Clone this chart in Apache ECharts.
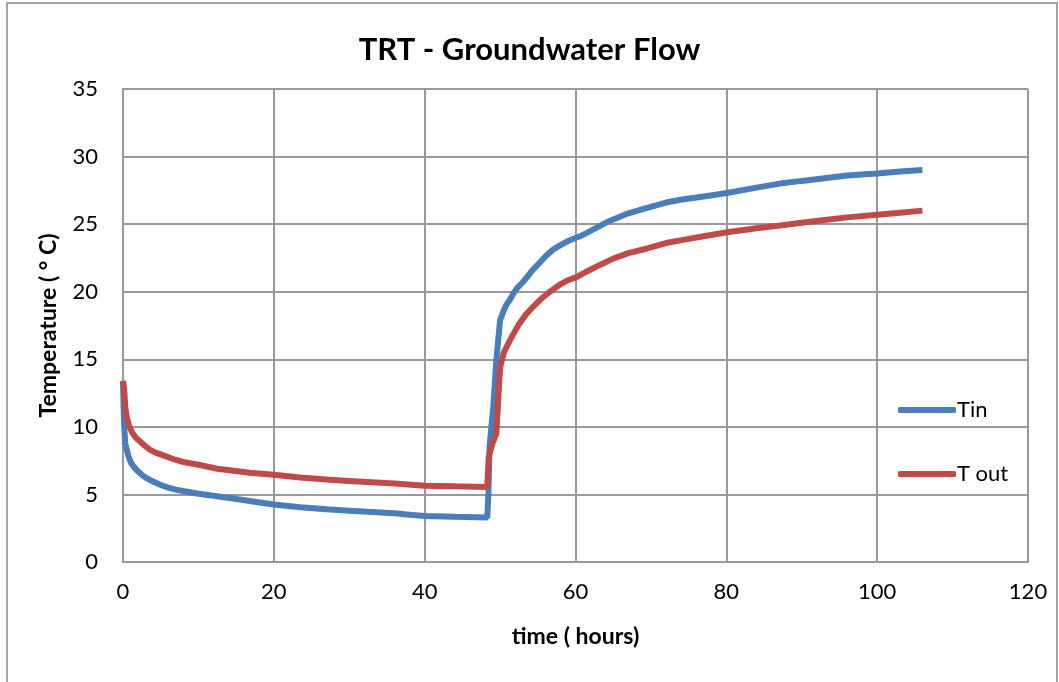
<!DOCTYPE html>
<html>
<head>
<meta charset="utf-8">
<script src="https://cdn.jsdelivr.net/npm/echarts@6/dist/echarts.min.js"></script>
<style>
html,body{margin:0;padding:0;background:#fff;}
#c{width:1059px;height:682px;}
</style>
</head>
<body>
<div id="c"></div>
<script>
const title = 'TRT - Groundwater Flow';
const xName = 'time ( hours)';
const yName = 'Temperature ( \u00b0 C)';
const seriesNames = ['Tin', 'T out'];
const tinData = [[0,13.3],[0.1,11.0],[0.2,9.6],[0.3,8.8],[0.5,8.3],[0.8,7.7],[1.1,7.3],[1.5,7.0],[2,6.7],[2.5,6.45],[3,6.25],[4,5.95],[5,5.7],[6,5.5],[7,5.35],[8,5.25],[10,5.05],[12,4.9],[14.6,4.7],[17,4.5],[20,4.25],[23.5,4.05],[27,3.9],[30,3.8],[33,3.7],[36,3.6],[38,3.5],[40,3.4],[44,3.35],[48.3,3.3],[48.45,5.0],[48.6,8.5],[49.1,11.5],[49.5,14.9],[50,17.9],[50.4,18.5],[50.8,19.0],[51.3,19.4],[51.8,19.9],[52.3,20.3],[53,20.7],[53.6,21.1],[54.3,21.6],[55,22.0],[56,22.6],[57,23.1],[58,23.45],[59,23.75],[60.6,24.1],[62,24.5],[63,24.8],[64,25.1],[65,25.35],[67,25.8],[69.5,26.2],[72,26.6],[73.9,26.8],[77,27.05],[80.1,27.3],[84,27.7],[87.1,28.0],[90,28.2],[93,28.4],[96,28.6],[100,28.75],[103,28.9],[106,29.0]];
const toutData = [[0,13.4],[0.15,12.8],[0.3,11.5],[0.5,10.7],[0.8,10.1],[1.2,9.6],[1.7,9.2],[2.3,8.9],[3,8.55],[3.6,8.3],[4.5,8.05],[5.8,7.8],[7,7.55],[8,7.4],[10,7.2],[12.5,6.9],[16.8,6.6],[20,6.45],[23.5,6.25],[27,6.1],[30,6.0],[33,5.9],[36,5.8],[40,5.65],[44,5.6],[48.3,5.55],[48.5,7.8],[49,8.8],[49.5,9.5],[50,14.4],[50.5,15.5],[51.3,16.4],[52,17.1],[52.5,17.6],[53.4,18.3],[54.4,18.9],[55.5,19.5],[56.6,20.0],[58,20.55],[59,20.85],[60.2,21.1],[61.5,21.5],[63.3,22.0],[65,22.45],[67,22.85],[69.5,23.2],[72,23.6],[73.9,23.8],[77,24.1],[80.1,24.4],[84,24.7],[87.1,24.9],[90,25.1],[93,25.3],[96,25.5],[100,25.7],[103,25.85],[106,26.0]];
const colors = ['#4a7ebb', '#be4b48'];

const font = 'Lato, "Noto Sans", sans-serif';
const gridColor = '#999999';
const chart = echarts.init(document.getElementById('c'), null, {renderer: 'canvas'});
chart.setOption({
  animation: false,
  backgroundColor: '#ffffff',
  graphic: [{
    type: 'rect', shape: {x: 7, y: 3, width: 1050, height: 720},
    style: {fill: 'none', stroke: '#a6a6a6', lineWidth: 2}, silent: true, z: -1
  }],
  title: {
    text: title, left: 'center', top: 29,
    textStyle: {fontFamily: font, fontSize: 31, fontWeight: 'bold', color: '#000'}
  },
  legend: {
    orient: 'vertical', left: 893, top: 394, itemGap: 42,
    itemWidth: 58, itemHeight: 6, icon: 'roundRect',
    data: seriesNames,
    textStyle: {fontFamily: font, fontSize: 22, color: '#000', padding: [0,0,0,-4]}
  },
  grid: {left: 123, right: 31, top: 89, bottom: 120},
  xAxis: {
    type: 'value', min: 0, max: 120, interval: 20,
    name: xName, nameLocation: 'middle', nameGap: 63,
    nameTextStyle: {fontFamily: font, fontSize: 23, fontWeight: 'bold', color: '#000'},
    axisLine: {show: true, lineStyle: {color: gridColor, width: 2}},
    axisTick: {show: false},
    axisLabel: {fontFamily: font, fontSize: 22, color: '#000', margin: 19},
    splitLine: {show: true, lineStyle: {color: gridColor, width: 2}}
  },
  yAxis: {
    type: 'value', min: 0, max: 35, interval: 5,
    name: yName, nameLocation: 'middle', nameGap: 63,
    nameTextStyle: {fontFamily: font, fontSize: 23, fontWeight: 'bold', color: '#000'},
    axisLine: {show: true, lineStyle: {color: gridColor, width: 2}},
    axisTick: {show: false},
    axisLabel: {fontFamily: font, fontSize: 22, color: '#000', margin: 25},
    splitLine: {show: true, lineStyle: {color: gridColor, width: 2}}
  },
  series: [
    {name: seriesNames[0], type: 'line', data: tinData, showSymbol: false, symbol: 'none',
     lineStyle: {color: colors[0], width: 6}, itemStyle: {color: colors[0]}, z: 3},
    {name: seriesNames[1], type: 'line', data: toutData, showSymbol: false, symbol: 'none',
     lineStyle: {color: colors[1], width: 6}, itemStyle: {color: colors[1]}, z: 4}
  ]
});
</script>
</body>
</html>
